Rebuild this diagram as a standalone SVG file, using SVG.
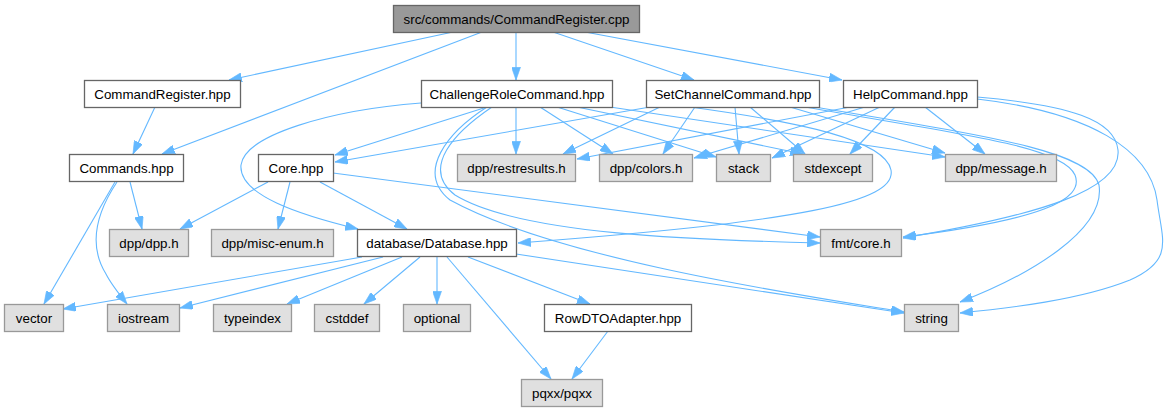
<svg xmlns="http://www.w3.org/2000/svg" width="1171" height="411" viewBox="0 0 1171 411">
<defs>
<marker id="ah" viewBox="0 0 10 7" refX="10" refY="3.5" markerWidth="13" markerHeight="9" markerUnits="userSpaceOnUse" orient="auto">
<path d="M0,0 L10,3.5 L0,7 z" fill="#63b8ff" stroke="#63b8ff" stroke-width="0.5"/>
</marker>
<style>
.n rect{fill:#ffffff;stroke:#666666;stroke-width:1.3}
.x rect{fill:#e0e0e0;stroke:#999999;stroke-width:1.3}
.r rect{fill:#999999;stroke:#666666;stroke-width:1.3}
text{font-family:"Liberation Sans",Arial,sans-serif;font-size:13.33px;fill:#000000;text-anchor:middle}
#edges path{fill:none;stroke:#63b8ff;stroke-width:1.1;marker-end:url(#ah)}
</style>
</defs>
<rect width="1171" height="411" fill="#ffffff"/>
<g id="edges">
<path d="M453,32 L229,80"/>
<path d="M482,32 L162,154"/>
<path d="M516,32 L516,80"/>
<path d="M553,32 L694,80"/>
<path d="M585,32 L842,80"/>
<path d="M155,107 L133,154"/>
<path d="M130,182 L142,229"/>
<path d="M115,182 L44,304"/>
<path d="M117,182 C97,212 88,245 106,274 C111,284 119,294 127,304"/>
<path d="M268,182 L180,229"/>
<path d="M290,182 L278,229"/>
<path d="M320,182 L407,229"/>
<path d="M333,173 L820,237"/>
<path d="M487,107 L335,155"/>
<path d="M421,103 C330,110 245,135 241,165 C238,195 300,215 358,229"/>
<path d="M516,107 L516,154"/>
<path d="M540,107 L613,154"/>
<path d="M557,107 L716,157"/>
<path d="M577,107 L803,154"/>
<path d="M610,107 L945,157"/>
<path d="M492,107 C455,132 420,168 455,195 C520,235 700,240 820,243"/>
<path d="M487,107 C448,132 415,172 450,200 C560,260 800,295 904,312"/>
<path d="M650,107 L335,162"/>
<path d="M660,107 L563,154"/>
<path d="M695,107 L663,154"/>
<path d="M735,107 L739,154"/>
<path d="M750,107 L805,154"/>
<path d="M790,107 L945,153"/>
<path d="M690,107 C800,122 885,140 891,170 C897,202 800,222 518,243"/>
<path d="M805,107 C950,133 1062,145 1075,175 C1085,200 1040,220 903,237"/>
<path d="M815,107 C980,135 1090,150 1099,185 C1106,230 1030,275 960,302"/>
<path d="M850,107 L577,159"/>
<path d="M865,107 L694,158"/>
<path d="M880,107 L772,158"/>
<path d="M895,107 L850,154"/>
<path d="M925,107 L985,154"/>
<path d="M977,97 C1070,105 1115,120 1118,150 C1122,190 1040,215 903,238"/>
<path d="M977,99 C1090,112 1150,150 1157,200 C1162,240 1175,260 1130,280 C1080,300 1010,308 960,313"/>
<path d="M362,257 L63,309"/>
<path d="M383,257 L180,308"/>
<path d="M402,257 L287,304"/>
<path d="M420,257 L364,304"/>
<path d="M437,257 L437,304"/>
<path d="M447,257 L551,379"/>
<path d="M468,257 L590,304"/>
<path d="M516,254 L904,313"/>
<path d="M608,331 L572,379"/>
</g>
<g id="root" class="r"><rect x="393.5" y="5.5" width="246" height="27"/><text x="516.5" y="23.5">src/commands/CommandRegister.cpp</text></g>
<g id="CommandRegister_hpp" class="n"><rect x="84.5" y="80.5" width="156" height="27"/><text x="162.5" y="98.5">CommandRegister.hpp</text></g>
<g id="ChallengeRoleCommand_hpp" class="n"><rect x="421.5" y="80.5" width="191" height="27"/><text x="517" y="98.5">ChallengeRoleCommand.hpp</text></g>
<g id="SetChannelCommand_hpp" class="n"><rect x="646.5" y="80.5" width="173" height="27"/><text x="733" y="98.5">SetChannelCommand.hpp</text></g>
<g id="HelpCommand_hpp" class="n"><rect x="843.5" y="80.5" width="134" height="27"/><text x="910.5" y="98.5">HelpCommand.hpp</text></g>
<g id="Commands_hpp" class="n"><rect x="69.5" y="154.5" width="114" height="27"/><text x="126.5" y="172.5">Commands.hpp</text></g>
<g id="Core_hpp" class="n"><rect x="258.5" y="154.5" width="75" height="27"/><text x="296" y="172.5">Core.hpp</text></g>
<g id="dpp_restresults_h" class="x"><rect x="457.5" y="154.5" width="118" height="27"/><text x="516.5" y="172.5">dpp/restresults.h</text></g>
<g id="dpp_colors_h" class="x"><rect x="599.5" y="154.5" width="93" height="27"/><text x="646" y="172.5">dpp/colors.h</text></g>
<g id="stack" class="x"><rect x="716.5" y="154.5" width="54" height="27"/><text x="743.5" y="172.5">stack</text></g>
<g id="stdexcept" class="x"><rect x="793.5" y="154.5" width="79" height="27"/><text x="833" y="172.5">stdexcept</text></g>
<g id="dpp_message_h" class="x"><rect x="945.5" y="154.5" width="111" height="27"/><text x="1001" y="172.5">dpp/message.h</text></g>
<g id="dpp_dpp_h" class="x"><rect x="109.5" y="229.5" width="79" height="27"/><text x="149" y="247.5">dpp/dpp.h</text></g>
<g id="dpp_misc_enum_h" class="x"><rect x="211.5" y="229.5" width="122" height="27"/><text x="272.5" y="247.5">dpp/misc-enum.h</text></g>
<g id="database_Database_hpp" class="n"><rect x="357.5" y="229.5" width="159" height="27"/><text x="437" y="247.5">database/Database.hpp</text></g>
<g id="fmt_core_h" class="x"><rect x="820.5" y="229.5" width="81" height="27"/><text x="861" y="247.5">fmt/core.h</text></g>
<g id="vector" class="x"><rect x="4.5" y="304.5" width="59" height="27"/><text x="34" y="322.5">vector</text></g>
<g id="iostream" class="x"><rect x="107.5" y="304.5" width="72" height="27"/><text x="143.5" y="322.5">iostream</text></g>
<g id="typeindex" class="x"><rect x="213.5" y="304.5" width="78" height="27"/><text x="252.5" y="322.5">typeindex</text></g>
<g id="cstddef" class="x"><rect x="314.5" y="304.5" width="65" height="27"/><text x="347" y="322.5">cstddef</text></g>
<g id="optional" class="x"><rect x="403.5" y="304.5" width="67" height="27"/><text x="437" y="322.5">optional</text></g>
<g id="RowDTOAdapter_hpp" class="n"><rect x="544.5" y="304.5" width="147" height="27"/><text x="618" y="322.5">RowDTOAdapter.hpp</text></g>
<g id="string" class="x"><rect x="904.5" y="304.5" width="54" height="27"/><text x="931.5" y="322.5">string</text></g>
<g id="pqxx_pqxx" class="x"><rect x="521.5" y="379.5" width="81" height="27"/><text x="562" y="397.5">pqxx/pqxx</text></g>
</svg>
